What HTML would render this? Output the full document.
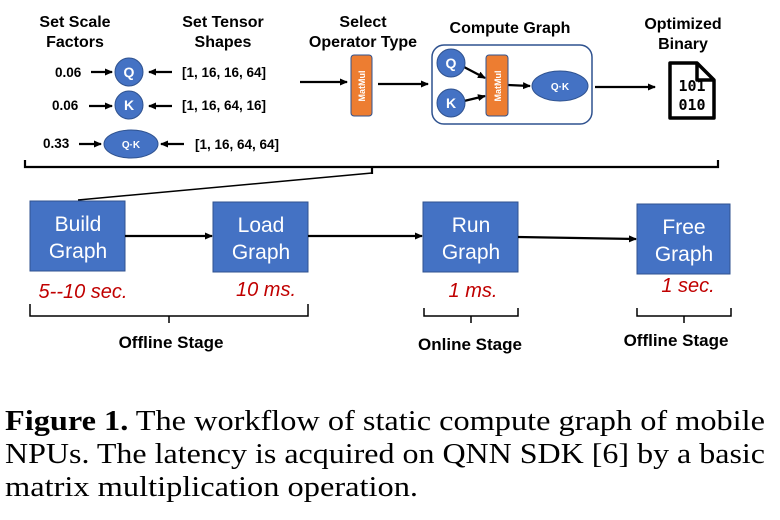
<!DOCTYPE html>
<html><head><style>html,body{margin:0;padding:0;background:#fff}svg{display:block}</style></head>
<body>
<svg width="780" height="520" viewBox="0 0 780 520" xmlns="http://www.w3.org/2000/svg">
<defs>
<marker id="a" markerWidth="8" markerHeight="8" refX="7" refY="4" orient="auto" markerUnits="userSpaceOnUse">
<path d="M0,0.5 L8,4 L0,7.5 z" fill="#000"/></marker>
</defs>
<g font-family="Liberation Sans, sans-serif" font-weight="bold" font-size="16" text-anchor="middle" fill="#000">
<text x="75" y="27">Set Scale</text><text x="75" y="47">Factors</text>
<text x="223" y="27">Set Tensor</text><text x="223" y="47">Shapes</text>
<text x="363" y="27">Select</text><text x="363" y="47">Operator Type</text>
<text x="510" y="33">Compute Graph</text>
<text x="683" y="29">Optimized</text><text x="683" y="49">Binary</text>
</g>
<g font-family="Liberation Sans, sans-serif" font-weight="bold" font-size="13.5" fill="#000">
<text x="55" y="77">0.06</text><text x="52" y="110">0.06</text><text x="43" y="148">0.33</text>
<text x="182" y="77">[1, 16, 16, 64]</text><text x="182" y="110">[1, 16, 64, 16]</text><text x="195" y="149">[1, 16, 64, 64]</text>
</g>
<g stroke="#000" stroke-width="2.2" fill="none">
<line x1="91" y1="72" x2="112" y2="72" marker-end="url(#a)"/>
<line x1="89" y1="106" x2="112" y2="106" marker-end="url(#a)"/>
<line x1="79" y1="144" x2="101" y2="144" marker-end="url(#a)"/>
<line x1="172" y1="72" x2="149" y2="72" marker-end="url(#a)"/>
<line x1="172" y1="106" x2="149" y2="106" marker-end="url(#a)"/>
<line x1="184" y1="144" x2="161" y2="144" marker-end="url(#a)"/>
<line x1="300" y1="82" x2="347" y2="82" marker-end="url(#a)"/>
<line x1="378" y1="84" x2="428" y2="84" marker-end="url(#a)"/>
<line x1="464" y1="67" x2="485" y2="78" marker-end="url(#a)"/>
<line x1="464" y1="101" x2="485" y2="96" marker-end="url(#a)"/>
<line x1="508" y1="85" x2="530" y2="86" marker-end="url(#a)"/>
<line x1="595" y1="87" x2="655" y2="87" marker-end="url(#a)"/>
<path d="M25,160 V167 H718 V160 M372,167 V174"/>
<line x1="372" y1="173" x2="78" y2="200" stroke-width="1.5"/>
</g>
<g fill="#4472c4" stroke="#2f528f" stroke-width="1">
<circle cx="129" cy="72" r="14"/><circle cx="129" cy="105" r="14"/>
<ellipse cx="131" cy="144" rx="27" ry="14"/>
</g>
<rect x="432" y="45" width="160" height="79" rx="12" fill="none" stroke="#2f528f" stroke-width="1.5"/>
<g fill="#4472c4" stroke="#2f528f" stroke-width="1">
<circle cx="451" cy="63" r="14"/><circle cx="451" cy="103" r="14"/>
<ellipse cx="560" cy="86" rx="28" ry="15"/>
</g>
<rect x="351" y="55" width="21" height="61" rx="3" fill="#ed7d31" stroke="#2f528f"/>
<rect x="486" y="55" width="22" height="61" rx="3" fill="#ed7d31" stroke="#2f528f"/>
<g font-family="Liberation Sans, sans-serif" font-weight="bold" fill="#fff" text-anchor="middle">
<text x="129" y="77" font-size="14">Q</text><text x="129" y="110" font-size="14">K</text>
<text x="131" y="148" font-size="10">Q·K</text>
<text x="451" y="68" font-size="14">Q</text><text x="451" y="108" font-size="14">K</text>
<text x="560" y="90" font-size="10">Q·K</text>
<text transform="translate(365,86) rotate(-90)" font-size="9">MatMul</text>
<text transform="translate(501,86) rotate(-90)" font-size="9">MatMul</text>
</g>
<path d="M670,63 H697 L714,80 V118 H670 Z M697,63 V80 H714" fill="none" stroke="#000" stroke-width="3.5" stroke-linejoin="round"/>
<g font-family="DejaVu Sans Mono, monospace" font-weight="bold" font-size="15" text-anchor="middle">
<text x="692" y="91">101</text><text x="692" y="110">010</text>
</g>
<g fill="#4472c4" stroke="#2f528f" stroke-width="1">
<rect x="30" y="201" width="95" height="70"/>
<rect x="213" y="202" width="95" height="70"/>
<rect x="423" y="202" width="95" height="70"/>
<rect x="637" y="204" width="93" height="70"/>
</g>
<g stroke="#000" stroke-width="2.2" fill="none">
<line x1="125" y1="236" x2="212" y2="236" marker-end="url(#a)"/>
<line x1="308" y1="236" x2="422" y2="236" marker-end="url(#a)"/>
<line x1="518" y1="237" x2="636" y2="239" marker-end="url(#a)"/>
<path d="M30,304 V316 H308 V304 M169,316 V323" stroke-width="1.5"/>
<path d="M424,308 V316 H518 V308 M471,316 V323" stroke-width="1.5"/>
<path d="M637,308 V316 H731 V308 M684,316 V323" stroke-width="1.5"/>
</g>
<g font-family="Liberation Sans, sans-serif" font-size="21" fill="#fff" text-anchor="middle">
<text x="78" y="231">Build</text><text x="78" y="258">Graph</text>
<text x="261" y="232">Load</text><text x="261" y="259">Graph</text>
<text x="471" y="232">Run</text><text x="471" y="259">Graph</text>
<text x="684" y="234">Free</text><text x="684" y="261">Graph</text>
</g>
<g font-family="Liberation Sans, sans-serif" font-style="italic" font-size="20" fill="#c00000" text-anchor="middle">
<text x="83" y="298">5--10 sec.</text><text x="266" y="296">10 ms.</text>
<text x="473" y="297">1 ms.</text><text x="688" y="292">1 sec.</text>
</g>
<g font-family="Liberation Sans, sans-serif" font-weight="bold" font-size="17" text-anchor="middle">
<text x="171" y="348">Offline Stage</text>
<text x="470" y="350">Online Stage</text>
<text x="676" y="346">Offline Stage</text>
</g>
<g font-family="Liberation Serif, serif" font-size="28" fill="#000">
<text x="5" y="430" textLength="760" lengthAdjust="spacingAndGlyphs"><tspan font-weight="bold">Figure 1.</tspan> The workflow of static compute graph of mobile</text>
<text x="5" y="463" textLength="760" lengthAdjust="spacingAndGlyphs">NPUs. The latency is acquired on QNN SDK [6] by a basic</text>
<text x="5" y="496" textLength="413" lengthAdjust="spacingAndGlyphs">matrix multiplication operation.</text>
</g>
</svg>
</body></html>
